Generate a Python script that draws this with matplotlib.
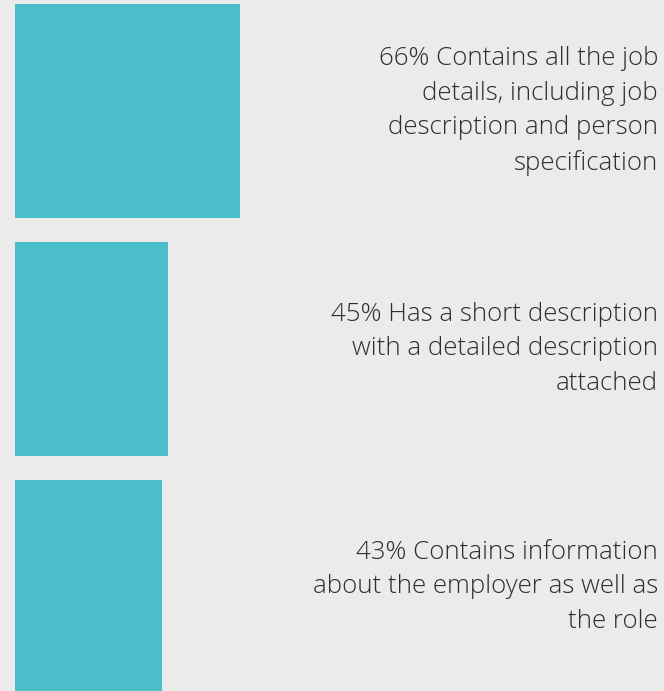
import matplotlib.pyplot as plt

# data
percents = [66, 45, 43]
labels = [
    "66% Contains all the job\ndetails, including job\ndescription and person\nspecification",
    "45% Has a short description\nwith a detailed description\nattached",
    "43% Contains information\nabout the employer as well as\nthe role",
]

bg = '#ebebeb'
bar_color = '#4abec9'

fig = plt.figure(figsize=(6.64, 6.91), dpi=100, facecolor=bg)
ax = fig.add_axes([0, 0, 1, 1], facecolor=bg)

pos = list(range(len(percents)))
ax.barh(pos, percents, height=0.9, left=0, color=bar_color)

ax.set_xlim(-4.24, 189.9)
ax.set_ylim(2.437, -0.466)
ax.axis('off')

for p, lab in zip(pos, labels):
    ax.text(0.991, p, lab, transform=ax.get_yaxis_transform(),
            ha='right', va='center', multialignment='right',
            fontsize=18.6, family=['Open Sans', 'DejaVu Sans'], fontweight='light',
            color='#2e2e2e', linespacing=1.49)

fig.savefig('out.png', dpi=100, facecolor=bg)
